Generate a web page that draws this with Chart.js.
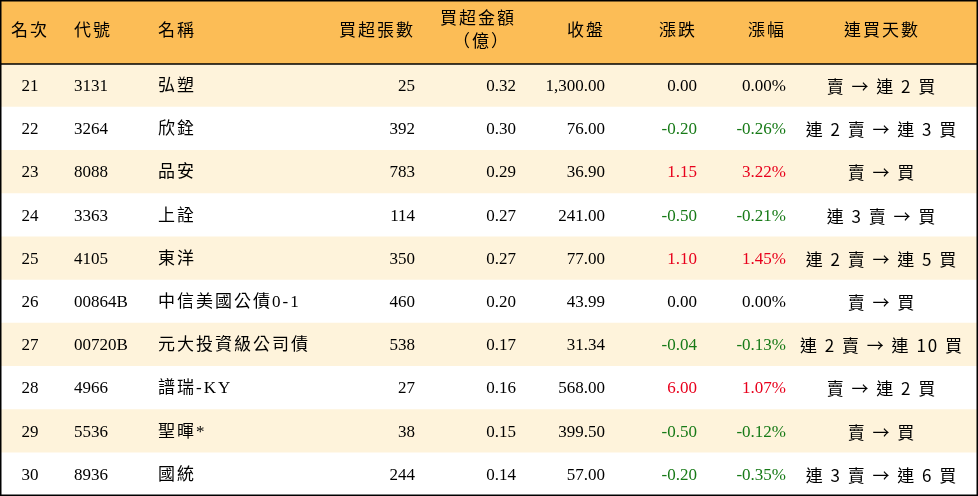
<!DOCTYPE html>
<html><head><meta charset="utf-8">
<script src="https://cdn.jsdelivr.net/npm/chart.js@4"></script>
<style>html,body{margin:0;padding:0;background:#fff}</style>
</head><body>
<canvas id="c" width="978" height="496"></canvas>
<script>
const headers = ["名次","代號","名稱","買超張數","買超金額\n（億）","收盤","漲跌","漲幅","連買天數"];
const ranks = ["21","22","23","24","25","26","27","28","29","30"];
const codes = ["3131","3264","8088","3363","4105","00864B","00720B","4966","5536","8936"];
const names = ["弘塑","欣銓","品安","上詮","東洋","中信美國公債0-1","元大投資級公司債","譜瑞-KY","聖暉*","國統"];
const volumes = ["25","392","783","114","350","460","538","27","38","244"];
const amounts = ["0.32","0.30","0.29","0.27","0.27","0.20","0.17","0.16","0.15","0.14"];
const closes = ["1,300.00","76.00","36.90","241.00","77.00","43.99","31.34","568.00","399.50","57.00"];
const changes = [0.00,-0.20,1.15,-0.50,1.10,0.00,-0.04,6.00,-0.50,-0.20];
const pcts = [0.00,-0.26,3.22,-0.21,1.45,0.00,-0.13,1.07,-0.12,-0.35];
const streaks = ["賣 → 連 2 買","連 2 賣 → 連 3 買","賣 → 買","連 3 賣 → 買","連 2 賣 → 連 5 買","賣 → 買","連 2 賣 → 連 10 買","賣 → 連 2 買","賣 → 買","連 3 賣 → 連 6 買"];

const cols = [
 {x:30,a:"center"},{x:74,a:"left"},{x:158,a:"left"},{x:415,a:"right"},{x:516,a:"right"},
 {x:605,a:"right"},{x:697,a:"right"},{x:786,a:"right"},{x:882,a:"center"}
];
const fmt = v => v.toFixed(2);
const col = v => v>0 ? "#e8001c" : v<0 ? "#177a17" : "#000";

const tablePlugin = {
  id:"table",
  beforeDatasetsDraw(chart){
    const ctx=chart.ctx, top=chart.chartArea.top;
    ctx.save(); ctx.fillStyle="#fcbd56"; ctx.fillRect(0,0,chart.width,top); ctx.restore();
  },
  afterDatasetsDraw(chart){
    const ctx=chart.ctx, xs=chart.scales.x, ys=chart.scales.y, top=chart.chartArea.top;
    ctx.save();
    ctx.textBaseline="middle";
    ctx.font='17px "Liberation Serif","Noto Sans CJK TC",serif'; ctx.fillStyle="#000";
    ctx.letterSpacing="2px";
    headers.forEach((h,i)=>{
      ctx.textAlign=cols[i].a;
      const x=xs.getPixelForValue(cols[i].x);
      const lines=h.split("\n");
      if(lines.length===1) ctx.fillText(h,x,top/2);
      else { ctx.fillText(lines[0],x,20); ctx.fillText(lines[1],x-6,43); }
    });
    ranks.forEach((r,i)=>{
      const y=ys.getPixelForValue(i)+1;
      const cells=[r,codes[i],names[i],volumes[i],amounts[i],closes[i],fmt(changes[i]),fmt(pcts[i])+"%",streaks[i]];
      const colors=["#000","#000","#000","#000","#000","#000",col(changes[i]),col(pcts[i]),"#000"];
      cells.forEach((t,j)=>{
        ctx.letterSpacing=(j===2||j===8)?"2px":"0px";
        ctx.font=(j===8)?'17px "DejaVu Serif","Noto Sans CJK TC",serif':'17px "Liberation Serif","Noto Sans CJK TC",serif';
        if(j===8) ctx.font='17px "Noto Sans CJK TC"';
        ctx.textAlign=cols[j].a; ctx.fillStyle=colors[j];
        ctx.fillText(t,xs.getPixelForValue(cols[j].x),y);
      });
    });
    ctx.strokeStyle="#000"; ctx.lineWidth=1.5;
    ctx.beginPath(); ctx.moveTo(0,top); ctx.lineTo(chart.width,top); ctx.stroke();
    ctx.strokeRect(0.75,0.75,chart.width-1.5,chart.height-1.5);
    ctx.restore();
  }
};

new Chart(document.getElementById("c"),{
  type:"bar",
  data:{labels:ranks,datasets:[{data:ranks.map(()=>978),
    backgroundColor:ranks.map((_,i)=>i%2===0?"#fef3db":"#ffffff"),
    barPercentage:1,categoryPercentage:1,borderWidth:0}]},
  options:{indexAxis:"y",responsive:false,animation:false,devicePixelRatio:1,
    layout:{padding:{top:64,left:0,right:0,bottom:0}},
    plugins:{legend:{display:false},tooltip:{enabled:false}},
    scales:{x:{display:false,min:0,max:978},y:{display:false}}},
  plugins:[tablePlugin]
});
</script>
</body></html>
